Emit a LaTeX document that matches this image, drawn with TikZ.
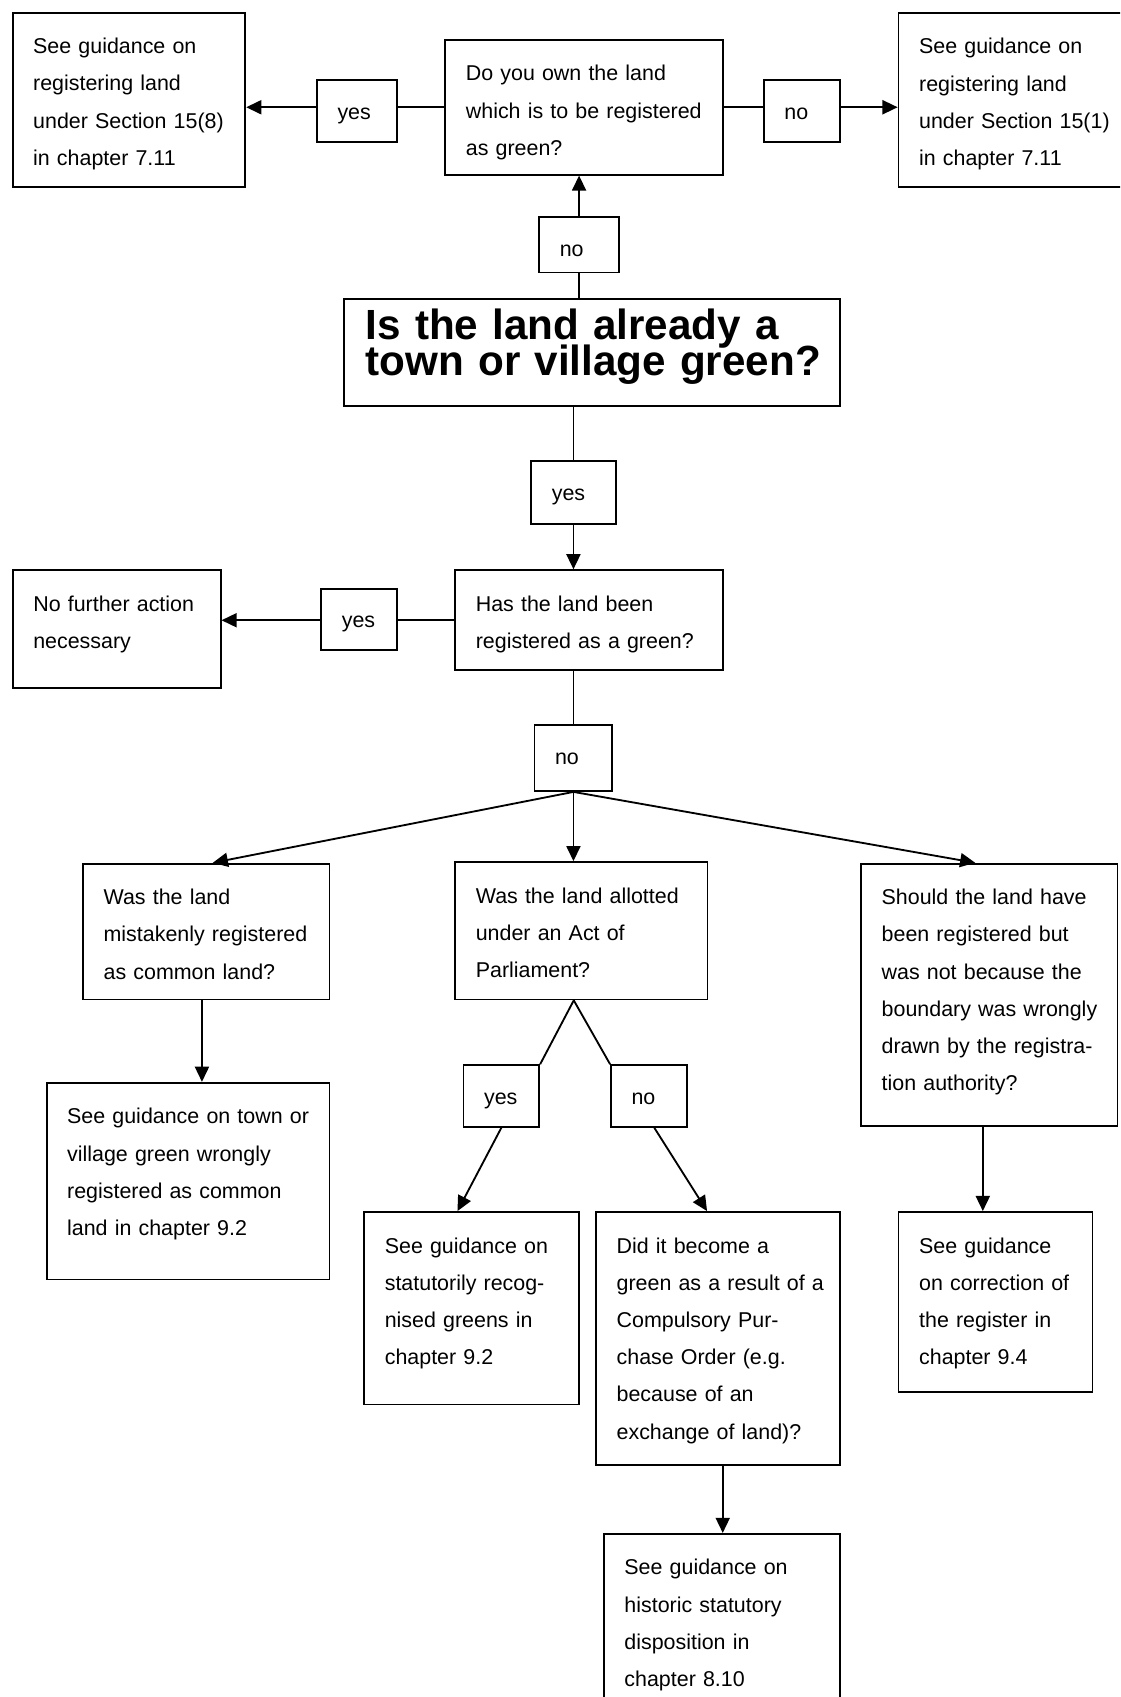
\documentclass[tikz,border=0pt]{standalone}
\usepackage{fontspec}
\setmainfont{Liberation Sans}
\usetikzlibrary{arrows.meta}
\newcommand{\txtfont}{\fontsize{19.8pt}{34.4pt}\selectfont}
\newcommand{\ttlfont}{\fontsize{39pt}{33pt}\selectfont\bfseries\lineskiplimit=-50pt}

\begin{document}
\begin{tikzpicture}[x=1pt, y=-1pt,
    box/.style={rectangle, draw, line width=1.7pt, anchor=north west, align=left,
                inner xsep=0pt, inner ysep=23.4pt, text height=14.5pt, font=\txtfont,
                execute at begin node={\leftskip=19pt}},
    tag/.style={rectangle, draw, line width=1.7pt, anchor=north west, align=left,
                inner sep=0pt, minimum height=57pt, text height=15.6pt, text depth=0pt,
                font=\txtfont, execute at begin node={\leftskip=19pt}},
    link/.style={line width=1.7pt},
    arr/.style={line width=1.7pt, -{Triangle[length=14pt, width=13pt]}}]

    \useasboundingbox (0,0) rectangle (1035,1568);
    \clip (0,0) rectangle (1035,1568);

    % Ownership question
    \node[box, text width=256.4pt, text depth=63.2pt] (own) at (410.6,36) {Do you own the land\\which is to be registered\\as green?};
    \node[box, text width=215pt, text depth=99.8pt] (sec8) at (10.8,10.8) {See guidance on\\registering land\\under Section 15(8)\\in chapter 7.11};
    \node[box, text width=216pt, text depth=99.7pt] (sec1) at (829.4,11) {See guidance on\\registering land\\under Section 15(1)\\in chapter 7.11};
    \node[tag, text width=74.3pt] (ownyes) at (292,73) {yes};
    \node[tag, text width=70.6pt] (ownno) at (705,73) {no};

    % Main question
    \node[box, font=\ttlfont, inner ysep=9.2pt, text height=28pt, text width=458.4pt, text depth=52.2pt,
          execute at begin node={\leftskip=20pt}] (green) at (317.2,275.7) {Is the land already a\\town or village green?};
    \node[tag, text width=73.6pt, minimum height=51.4pt, text height=21.2pt] (greenno) at (497.4,199.6) {no};
    \node[tag, text width=78pt, minimum height=58pt, text height=14.6pt] (greenyes) at (490,425) {yes};

    % Registration question
    \node[box, text width=247.2pt, text depth=31.2pt] (registered) at (419.8,526) {Has the land been\\registered as a green?};
    \node[box, text width=192.1pt, text depth=47.2pt] (noaction) at (10.9,526.1) {No further action\\necessary};
    \node[tag, text width=70.3pt] (regyes) at (296,543) {yes};
    \node[tag, text width=72pt, minimum height=60.6pt, text height=12pt] (regno) at (493,669.4) {no};

    % Three checks
    \node[box, text width=227.7pt, text depth=64.1pt] (mistaken) at (75.9,797.2) {Was the land\\mistakenly registered\\as common land?};
    \node[box, text width=233pt, text depth=65.6pt] (allotted) at (419.8,795.7) {Was the land allotted\\under an Act of\\Parliament?};
    \node[box, text width=236.9pt, text depth=181.1pt] (boundary) at (794.8,797.2) {Should the land have\\been registered but\\was not because the\\boundary was wrongly\\drawn by the registra-\\tion authority?};

    % Outcomes
    \node[box, text width=261.4pt, text depth=120.4pt] (commonfix) at (42.2,999.6) {See guidance on town or\\village green wrongly\\registered as common\\land in chapter 9.2};
    \node[tag, text width=70pt] (actyes) at (427.4,983.3) {yes};
    \node[tag, text width=70pt] (actno) at (563.7,983.3) {no};
    \node[box, text width=198.3pt, text depth=116.6pt] (statutory) at (335.7,1119) {See guidance on\\statutorily recog-\\nised greens in\\chapter 9.2};
    \node[box, text width=225.1pt, text depth=172.6pt] (cpo) at (549.9,1119) {Did it become a\\green as a result of a\\Compulsory Pur-\\chase Order (e.g.\\because of an\\exchange of land)?};
    \node[box, text width=179.2pt, text depth=105.2pt] (correction) at (829.4,1119) {See guidance\\on correction of\\the register in\\chapter 9.4};
    \node[box, text width=217.9pt, text depth=102.3pt] (historic) at (557.1,1416.4) {See guidance on\\historic statutory\\disposition in\\chapter 8.10};

    % Arrows, top row
    \draw[link] (own.west) -- (own.west -| ownyes.east);
    \draw[arr] (own.west -| ownyes.west) -- (own.west -| sec8.east);
    \draw[link] (own.east) -- (own.east -| ownno.west);
    \draw[arr] (own.east -| ownno.east) -- (own.east -| sec1.west);

    % Arrows, main question
    \draw[link] (green.north -| greenno.south) -- (greenno.south);
    \draw[arr] (greenno.north) -- (greenno.north |- own.south);
    \draw[link] (green.south -| greenyes.north) -- (greenyes.north);
    \draw[arr] (greenyes.south) -- (greenyes.south |- registered.north);

    % Arrows, registration question
    \draw[link] (registered.west) -- (registered.west -| regyes.east);
    \draw[arr] (registered.west -| regyes.west) -- (registered.west -| noaction.east);
    \draw[link] (registered.south -| regno.north) -- (regno.north);
    \draw[arr] (regno.south) -- ([xshift=6pt]mistaken.north);
    \draw[arr] (regno.south) -- (regno.south |- allotted.north);
    \draw[arr] (regno.south) -- ([xshift=-13pt]boundary.north);

    % Arrows, lower part
    \draw[arr] ([xshift=-4pt]mistaken.south) -- ([xshift=-4pt]mistaken.south |- commonfix.north);
    \draw[link] ([xshift=-7pt]allotted.south) -- (actyes.north east);
    \draw[link] ([xshift=-7pt]allotted.south) -- (actno.north west);
    \draw[arr] (actyes.south) -- ([xshift=-13pt]statutory.north);
    \draw[arr] ([xshift=5pt]actno.south) -- ([xshift=-10pt]cpo.north);
    \draw[arr] ([xshift=-6pt]boundary.south) -- ([xshift=-6pt]boundary.south |- correction.north);
    \draw[arr] ([xshift=4.5pt]cpo.south) -- ([xshift=4.5pt]cpo.south |- historic.north);
\end{tikzpicture}
\end{document}
